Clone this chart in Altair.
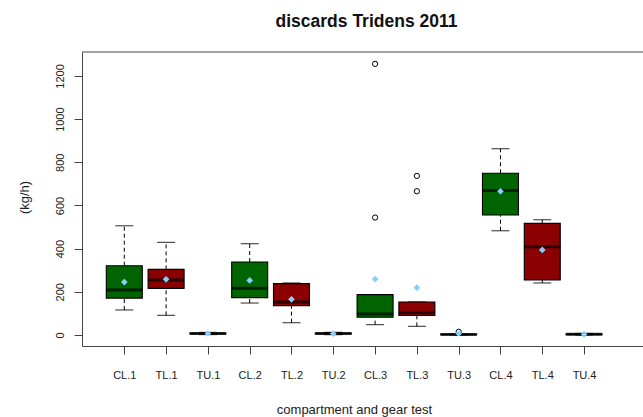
import altair as alt
import pandas as pd

# Box statistics per compartment/gear combination (kg/h)
groups = ["CL.1", "TL.1", "TU.1", "CL.2", "TL.2", "TU.2",
          "CL.3", "TL.3", "TU.3", "CL.4", "TL.4", "TU.4"]
gear = ["CL", "TL", "TU"] * 4
lower_whisker = [116, 91, 2, 148, 57, 2, 48, 40, 0, 483, 241, 0]
q1 = [171, 216, 5, 173, 136, 5, 82, 90, 1, 556, 255, 1]
median = [208, 255, 7, 216, 153, 7, 97, 103, 2, 669, 409, 3]
q3 = [321, 304, 9, 338, 238, 9, 187, 153, 4, 749, 517, 5]
upper_whisker = [506, 429, 12, 423, 241, 12, 187, 153, 6, 863, 534, 7]
means = [245, 258, 7, 253, 165, 6, 259, 219, 7, 666, 394, 3]

outlier_group = ["CL.3", "CL.3", "TL.3", "TL.3", "TU.3"]
outlier_value = [1256, 544, 737, 666, 15]

gear_colors = {"CL": "#006400", "TL": "#8B0000", "TU": "#00008B"}

box = pd.DataFrame({
    "group": groups,
    "pos": list(range(1, len(groups) + 1)),
    "gear": gear,
    "lw": lower_whisker,
    "q1": q1,
    "med": median,
    "q3": q3,
    "uw": upper_whisker,
    "mean": means,
})
box["fill"] = box["gear"].map(gear_colors)

out = pd.DataFrame({"group": outlier_group, "value": outlier_value})
out["pos"] = out["group"].map({g: i + 1 for i, g in enumerate(groups)})

label_list = "[" + ",".join(f"'{g}'" for g in groups) + "]"

xscale = alt.Scale(domain=[-0.012, 13.41], nice=False, zero=False, padding=0)
yscale = alt.Scale(domain=[-51, 1311], nice=False, zero=False, padding=0)

x_axis = alt.Axis(
    values=list(range(1, len(groups) + 1)),
    labelExpr=f"{label_list}[datum.value - 1]",
    title="compartment and gear test",
    grid=False, tickSize=8, labelPadding=24, labelBaseline="alphabetic",
    labelFontSize=11, labelFont="Liberation Sans", labelColor="#222",
    titleFontSize=13, titleFont="Liberation Sans", titleFontWeight="normal",
    titleColor="#222", titleX=272, titleY=67, titleBaseline="alphabetic",
    titleAnchor="start", titleAlign="center",
    domainColor="#444", tickColor="#444",
)
y_axis = alt.Axis(
    values=[0, 200, 400, 600, 800, 1000, 1200], format="d",
    title="(kg/h)", grid=False, tickSize=8, labelPadding=11,
    labelAngle=-90, labelAlign="center", labelBaseline="alphabetic",
    labelFontSize=11, labelFont="Liberation Sans", labelColor="#222",
    titleFontSize=13, titleFont="Liberation Sans", titleFontWeight="normal",
    titleColor="#222", titleAngle=-90, titleAlign="center",
    titleBaseline="alphabetic", titleX=-54, titleY=145,
    domainColor="#444", tickColor="#444",
)

X = alt.X("pos:Q", scale=xscale, axis=x_axis)


def Y(field):
    return alt.Y(field, type="quantitative", scale=yscale, axis=y_axis)


base = alt.Chart(box)

upper = base.mark_rule(color="black", strokeDash=[4, 3], strokeWidth=1).encode(
    x=X, y=Y("q3"), y2="uw:Q")
lower = base.mark_rule(color="black", strokeDash=[4, 3], strokeWidth=1).encode(
    x=X, y=Y("lw"), y2="q1:Q")
cap_hi = base.mark_tick(orient="horizontal", size=18, thickness=1.2, color="black").encode(
    x=X, y=Y("uw"))
cap_lo = base.mark_tick(orient="horizontal", size=18, thickness=1.2, color="black").encode(
    x=X, y=Y("lw"))
boxes = base.mark_bar(size=36, stroke="black", strokeWidth=1.1).encode(
    x=X, y=Y("q1"), y2="q3:Q",
    fill=alt.Fill("fill:N", scale=None))
medians = base.mark_tick(orient="horizontal", size=36, thickness=3, color="black").encode(
    x=X, y=Y("med"))
mean_pts = base.mark_point(shape="diamond", filled=True, size=45, color="#87CEFA", opacity=1).encode(
    x=X, y=Y("mean"))
outliers = alt.Chart(out).mark_point(shape="circle", size=28, color="black",
                                     strokeWidth=1, filled=False, opacity=1).encode(
    x=X, y=Y("value"))

frame_top = alt.Chart(pd.DataFrame({"k": [0]})).mark_rule(color="#444", strokeWidth=1).encode(
    x=alt.value(0), x2=alt.value(561), y=alt.value(0))

title = alt.Chart(pd.DataFrame({"t": ["discards Tridens 2011"]})).mark_text(
    font="Liberation Sans", fontSize=17.5, fontWeight="bold", color="#111",
    align="center", baseline="alphabetic").encode(
    text="t:N", x=alt.value(284.5), y=alt.value(-25))

chart = alt.layer(
    upper, lower, cap_hi, cap_lo, boxes, medians, outliers, mean_pts, frame_top, title
).properties(
    width=561, height=294,
    autosize=alt.AutoSizeParams(type="none"),
    padding={"left": 82, "top": 52, "right": 0, "bottom": 71},
    background="white",
).configure_view(stroke=None)

chart.save("out.html", embed_options={"renderer": "svg", "actions": False})
